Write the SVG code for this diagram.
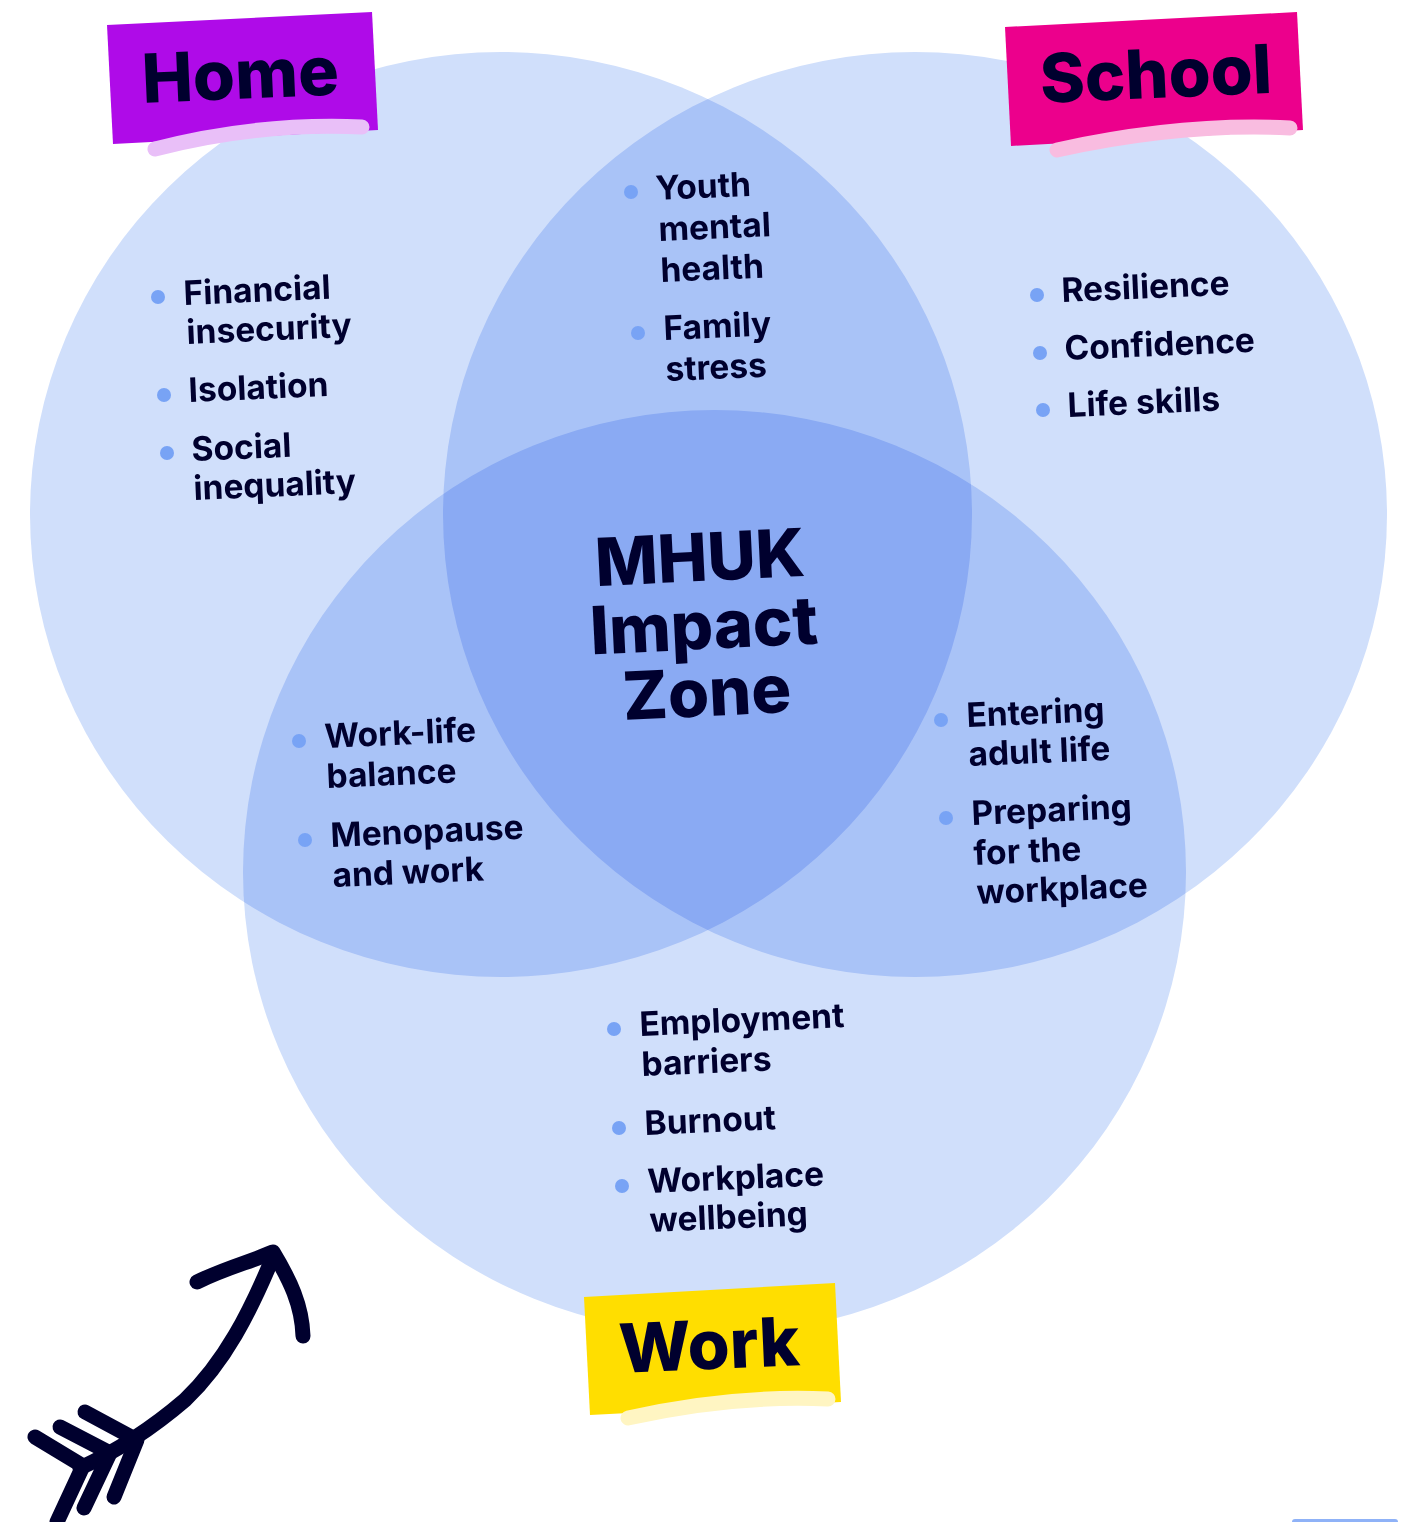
<svg xmlns="http://www.w3.org/2000/svg" width="1401" height="1522" viewBox="0 0 1401 1522">
  <style>
    .ring { fill: #D0DFFB; mix-blend-mode: multiply; }
    .item { font-family: Inter, "Liberation Sans", sans-serif; font-weight: 700; font-size: 33.5px; fill: #00002E; }
    .title { font-family: Inter, "Liberation Sans", sans-serif; font-weight: 800; font-size: 68px; fill: #00002E; }
    .hub { font-family: Inter, "Liberation Sans", sans-serif; font-weight: 800; font-size: 66.5px; fill: #00002E; text-anchor: middle; }
    .dot { fill: #78A3F5; }
    .swash { fill: none; stroke-width: 15; stroke-linecap: round; }
    .ink { fill: none; stroke: #00002E; stroke-width: 15; stroke-linecap: round; stroke-linejoin: round; }
  </style>

  <rect width="1401" height="1522" fill="#FFFFFF"/>

  <!-- three overlapping rings, multiplied so overlaps darken -->
  <g id="circles" style="isolation:isolate">
    <ellipse id="circle-home" class="ring" cx="501" cy="514.5" rx="471" ry="462.5"/>
    <ellipse id="circle-school" class="ring" cx="915" cy="514.5" rx="472" ry="462.5"/>
    <ellipse id="circle-work" class="ring" cx="714.5" cy="872" rx="471.5" ry="462"/>
  </g>

  <!-- Home label -->
  <g id="label-home">
    <polygon points="107,25 372,12 378,130 113,144" fill="#AF0BE8"/>
    <path class="swash" stroke="#E9BFF8" d="M155,149 C220,132 290,124 362,127"/>
    <text class="title" x="143" y="103" transform="rotate(-2.5 143 103)">Home</text>
  </g>

  <!-- School label -->
  <g id="label-school">
    <polygon points="1005,27 1297,12 1303,130 1011,146" fill="#EC008C"/>
    <path class="swash" stroke="#F9BCE0" d="M1057,150 C1130,134 1210,124 1290,128"/>
    <text class="title" x="1041" y="103" transform="rotate(-2.5 1041 103)">School</text>
  </g>

  <!-- Work label -->
  <g id="label-work">
    <polygon points="584,1297 835,1283 841,1402 590,1415" fill="#FFDE00"/>
    <path class="swash" stroke="#FFF5C2" d="M628,1418 C690,1404 760,1396 828,1399"/>
    <text class="title" x="620" y="1373" transform="rotate(-2.5 620 1373)">Work</text>
  </g>

  <!-- Home only -->
  <g id="node-home">
    <circle class="dot" cx="158" cy="297" r="7"/>
    <text class="item" x="184" y="305" transform="rotate(-2.5 184 305)">Financial</text>
    <text class="item" x="187" y="344" transform="rotate(-2.5 187 344)">insecurity</text>
    <circle class="dot" cx="164" cy="395" r="7"/>
    <text class="item" x="189" y="402" transform="rotate(-2.5 189 402)">Isolation</text>
    <circle class="dot" cx="167" cy="453" r="7"/>
    <text class="item" x="192" y="461" transform="rotate(-2.5 192 461)">Social</text>
    <text class="item" x="194" y="500" transform="rotate(-2.5 194 500)">inequality</text>
  </g>

  <!-- Home and School -->
  <g id="node-home-school">
    <circle class="dot" cx="631" cy="192" r="7"/>
    <text class="item" x="656" y="200" transform="rotate(-2.5 656 200)">Youth</text>
    <text class="item" x="659" y="241" transform="rotate(-2.5 659 241)">mental</text>
    <text class="item" x="661" y="282" transform="rotate(-2.5 661 282)">health</text>
    <circle class="dot" cx="638" cy="333" r="7"/>
    <text class="item" x="664" y="340" transform="rotate(-2.5 664 340)">Family</text>
    <text class="item" x="666" y="381" transform="rotate(-2.5 666 381)">stress</text>
  </g>

  <!-- School only -->
  <g id="node-school">
    <circle class="dot" cx="1037" cy="295" r="7"/>
    <text class="item" x="1062" y="302" transform="rotate(-2.5 1062 302)">Resilience</text>
    <circle class="dot" cx="1040" cy="353" r="7"/>
    <text class="item" x="1065" y="360" transform="rotate(-2.5 1065 360)">Confidence</text>
    <circle class="dot" cx="1043" cy="410" r="7"/>
    <text class="item" x="1068" y="417" transform="rotate(-2.5 1068 417)">Life skills</text>
  </g>

  <!-- centre of all three -->
  <g id="node-centre">
    <text class="hub" x="701" y="581" transform="rotate(-2.8 701 581)">MHUK</text>
    <text class="hub" x="705" y="649" transform="rotate(-2.8 705 649)">Impact</text>
    <text class="hub" x="708" y="716" transform="rotate(-2.8 708 716)">Zone</text>
  </g>

  <!-- Home and Work -->
  <g id="node-home-work">
    <circle class="dot" cx="299" cy="741" r="7"/>
    <text class="item" x="325" y="748" transform="rotate(-2.5 325 748)">Work-life</text>
    <text class="item" x="327" y="788" transform="rotate(-2.5 327 788)">balance</text>
    <circle class="dot" cx="305" cy="840" r="7"/>
    <text class="item" x="331" y="847" transform="rotate(-2.5 331 847)">Menopause</text>
    <text class="item" x="333" y="887" transform="rotate(-2.5 333 887)">and work</text>
  </g>

  <!-- School and Work -->
  <g id="node-school-work">
    <circle class="dot" cx="941" cy="720" r="7"/>
    <text class="item" x="967" y="727" transform="rotate(-2.5 967 727)">Entering</text>
    <text class="item" x="969" y="766" transform="rotate(-2.5 969 766)">adult life</text>
    <circle class="dot" cx="946" cy="818" r="7"/>
    <text class="item" x="972" y="825" transform="rotate(-2.5 972 825)">Preparing</text>
    <text class="item" x="974" y="865" transform="rotate(-2.5 974 865)">for the</text>
    <text class="item" x="977" y="904" transform="rotate(-2.5 977 904)">workplace</text>
  </g>

  <!-- Work only -->
  <g id="node-work">
    <circle class="dot" cx="614" cy="1029" r="7"/>
    <text class="item" x="640" y="1036" transform="rotate(-2.5 640 1036)">Employment</text>
    <text class="item" x="642" y="1076" transform="rotate(-2.5 642 1076)">barriers</text>
    <circle class="dot" cx="619" cy="1128" r="7"/>
    <text class="item" x="645" y="1135" transform="rotate(-2.5 645 1135)">Burnout</text>
    <circle class="dot" cx="622" cy="1186" r="7"/>
    <text class="item" x="648" y="1193" transform="rotate(-2.5 648 1193)">Workplace</text>
    <text class="item" x="650" y="1232" transform="rotate(-2.5 650 1232)">wellbeing</text>
  </g>

  <!-- hand-drawn arrow -->
  <g id="arrow">
    <path class="ink" d="M80,1468 C115,1452 150,1430 185,1400 C225,1362 250,1312 273,1257"/>
    <path class="ink" d="M197,1282 C225,1268 250,1262 273,1252 C290,1280 302,1305 303,1336"/>
    <path class="ink" d="M35,1437 L83,1466 L57,1522"/>
    <path class="ink" d="M60,1427 L110,1453 L84,1508"/>
    <path class="ink" d="M85,1412 L137,1440 L114,1497"/>
  </g>

  <!-- edge of a shape at the bottom right -->
  <rect x="1292" y="1519" width="106" height="6" rx="3" fill="#8FB2F7"/>
</svg>
